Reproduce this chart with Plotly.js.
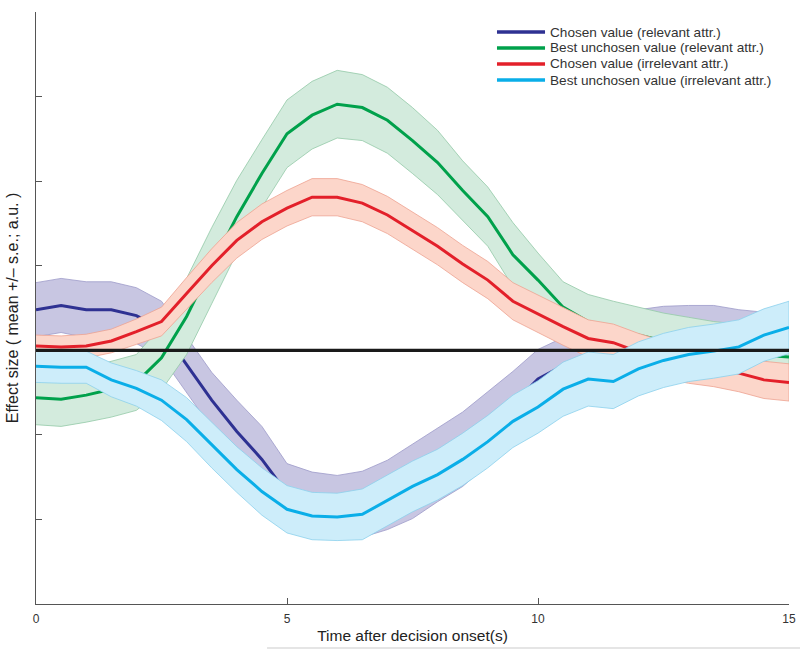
<!DOCTYPE html>
<html>
<head>
<meta charset="utf-8">
<script src="https://cdn.plot.ly/plotly-3.0.1.min.js"></script>
<style>html,body{margin:0;padding:0;background:#fff;}#chart{width:800px;height:651px;}</style>
</head>
<body>
<div id="chart"></div>
<script>
// Time after decision onset (s)
const time = [0,0.5,1,1.5,2,2.5,3,3.5,4,4.5,5,5.5,6,6.5,7,7.5,8,8.5,9,9.5,10,10.5,11,11.5,12,12.5,13,13.5,14,14.5,15];

// Chosen value (relevant attr.)
const chosenRelMean = [0.48,0.53,0.48,0.48,0.41,0.25,-0.17,-0.59,-0.96,-1.29,-1.69,-1.81,-1.86,-1.82,-1.71,-1.55,-1.35,-1.17,-0.92,-0.64,-0.34,-0.18,-0.06,0.04,0.11,0.15,0.18,0.19,0.15,0.13,0.11];
const chosenRelSe   = [0.32,0.32,0.33,0.33,0.33,0.33,0.33,0.33,0.37,0.39,0.35,0.37,0.38,0.39,0.41,0.44,0.44,0.44,0.43,0.39,0.35,0.33,0.34,0.35,0.37,0.37,0.35,0.34,0.33,0.32,0.33];

// Best unchosen value (relevant attr.)
const unchosenRelMean = [-0.56,-0.58,-0.53,-0.46,-0.38,-0.09,0.40,1.00,1.58,2.09,2.56,2.78,2.91,2.87,2.72,2.48,2.22,1.89,1.58,1.13,0.83,0.51,0.34,0.25,0.18,0.11,0.06,0.01,-0.02,-0.06,-0.08];
const unchosenRelSe   = [0.32,0.32,0.32,0.33,0.33,0.38,0.45,0.45,0.43,0.40,0.40,0.40,0.40,0.39,0.39,0.39,0.38,0.35,0.35,0.38,0.32,0.30,0.32,0.33,0.33,0.33,0.33,0.33,0.33,0.33,0.33];

// Chosen value (irrelevant attr.)
const chosenIrrMean = [0.05,0.04,0.05,0.11,0.22,0.34,0.67,1.00,1.30,1.52,1.68,1.81,1.81,1.74,1.60,1.41,1.23,1.02,0.83,0.58,0.43,0.28,0.14,0.09,-0.02,-0.11,-0.17,-0.21,-0.27,-0.35,-0.38];
const chosenIrrSe   = [0.13,0.13,0.14,0.14,0.15,0.17,0.19,0.20,0.21,0.21,0.21,0.22,0.22,0.22,0.22,0.22,0.22,0.22,0.22,0.22,0.22,0.22,0.22,0.22,0.22,0.22,0.22,0.22,0.22,0.22,0.22];

// Best unchosen value (irrelevant attr.)
const unchosenIrrMean = [-0.19,-0.20,-0.20,-0.35,-0.45,-0.59,-0.82,-1.12,-1.41,-1.67,-1.88,-1.96,-1.97,-1.94,-1.78,-1.61,-1.47,-1.29,-1.08,-0.84,-0.67,-0.46,-0.34,-0.37,-0.22,-0.12,-0.05,-0.01,0.04,0.18,0.27];
const unchosenIrrSe   = [0.19,0.19,0.19,0.20,0.21,0.24,0.26,0.27,0.27,0.28,0.28,0.28,0.28,0.30,0.30,0.30,0.30,0.31,0.31,0.31,0.31,0.32,0.32,0.32,0.32,0.32,0.32,0.32,0.32,0.31,0.31];

const seriesNames = ["Chosen value (relevant attr.)","Best unchosen value (relevant attr.)","Chosen value (irrelevant attr.)","Best unchosen value (irrelevant attr.)"];
const yTicks = [-3,-2,-1,0,1,2,3,4];
const xTicks = [0,5,10,15];

const series = [
  {name: seriesNames[0], mean: chosenRelMean, se: chosenRelSe, line: "#2e3192", fill: "#c8c6e2", edge: "#9d9ac9"},
  {name: seriesNames[1], mean: unchosenRelMean, se: unchosenRelSe, line: "#00a14b", fill: "#d3ebdd", edge: "#93c9a7"},
  {name: seriesNames[2], mean: chosenIrrMean, se: chosenIrrSe, line: "#e3202a", fill: "#fcd6ca", edge: "#eea291"},
  {name: seriesNames[3], mean: unchosenIrrMean, se: unchosenIrrSe, line: "#0aaee8", fill: "#cdedfa", edge: "#8cd0ec"}
];

const traces = [];
series.forEach(s => {
  const upper = s.mean.map((m,i) => m + s.se[i]);
  const lower = s.mean.map((m,i) => m - s.se[i]);
  traces.push({
    x: time.concat(time.slice().reverse()),
    y: upper.concat(lower.slice().reverse()),
    type: "scatter", mode: "lines", fill: "toself",
    fillcolor: s.fill, line: {color: s.edge, width: 0.8},
    hoverinfo: "skip", showlegend: false
  });
  traces.push({
    x: time, y: s.mean, type: "scatter", mode: "lines",
    name: s.name, line: {color: s.line, width: 3}, showlegend: false
  });
});

// custom legend (paper coordinates)
const shapes = [];
const annotations = [];
const legRows = [0.9662, 0.9392, 0.9122, 0.8851];
series.forEach((s, i) => {
  shapes.push({type: "line", xref: "paper", yref: "paper", x0: 0.6122, x1: 0.676, y0: legRows[i], y1: legRows[i], line: {color: s.line, width: 3.5}});
  annotations.push({xref: "paper", yref: "paper", x: 0.6800, y: legRows[i], xanchor: "left", yanchor: "middle", text: s.name, showarrow: false, font: {family: "Liberation Sans, Arial, sans-serif", size: 13.6, color: "#333"}});
});
// zero line
shapes.push({type: "line", xref: "x", yref: "y", x0: 0, x1: 15, y0: 0, y1: 0, layer: "above", line: {color: "#1a1a1a", width: 3.2}});
// faint rule at bottom
shapes.push({type: "line", xref: "paper", yref: "paper", x0: 0.3068, x1: 1.0146, y0: -0.0743, y1: -0.0743, line: {color: "#dddddd", width: 1.5}});

const layout = {
  width: 800, height: 651,
  margin: {l: 36, r: 11, t: 12, b: 47},
  paper_bgcolor: "#fff", plot_bgcolor: "#fff",
  showlegend: false,
  xaxis: {
    range: [0, 15], tickvals: xTicks, ticktext: xTicks.map(String),
    ticks: "inside", ticklen: 6, tickcolor: "#555", tickwidth: 1,
    showline: true, linecolor: "#555", linewidth: 1, showgrid: false, zeroline: false,
    tickfont: {family: "Liberation Sans Narrow, Arial Narrow, sans-serif", size: 12, color: "#333"},
    ticklabelstandoff: 4,
    title: {text: "Time after decision onset(s)", font: {family: "Liberation Sans Narrow, Arial Narrow, sans-serif", size: 15.5, color: "#222"}, standoff: 4}
  },
  yaxis: {
    range: [-3, 4], tickvals: yTicks, showticklabels: false,
    ticks: "inside", ticklen: 6, tickcolor: "#555", tickwidth: 1,
    showline: true, linecolor: "#555", linewidth: 1, showgrid: false, zeroline: false,
    title: {text: "Effect size ( mean +/– s.e.; a.u. )", font: {family: "Liberation Sans, Arial, sans-serif", size: 16, color: "#222"}, standoff: 12}
  },
  shapes: shapes,
  annotations: annotations
};

Plotly.newPlot("chart", traces, layout, {displayModeBar: false, staticPlot: true});
</script>
</body>
</html>
